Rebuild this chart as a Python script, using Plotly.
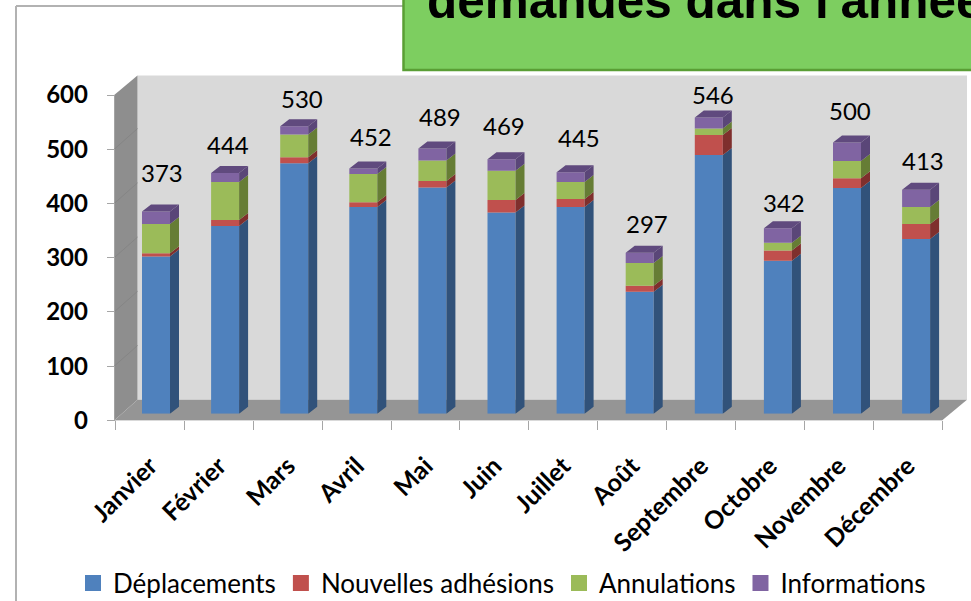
import plotly.graph_objects as go

# ---- data ----
months = ["Janvier", "Février", "Mars", "Avril", "Mai", "Juin", "Juillet", "Août",
          "Septembre", "Octobre", "Novembre", "Décembre"]
deplacements = [290, 346, 462, 381, 417, 371, 381, 225, 477, 282, 416, 322]
adhesions = [6, 11, 11, 9, 12, 23, 15, 11, 37, 19, 18, 28]
annulations = [54, 70, 42, 52, 38, 54, 31, 42, 12, 14, 32, 31]
informations = [23, 17, 15, 10, 22, 21, 18, 19, 20, 27, 34, 32]
totals = [373, 444, 530, 452, 489, 469, 445, 297, 546, 342, 500, 413]
y_ticks = [0, 100, 200, 300, 400, 500, 600]
title_text = "demandes dans l'année"

series = [
    ("Déplacements", deplacements, "#4f81bd", "#31527a", "#3b6390"),
    ("Nouvelles adhésions", adhesions, "#c0504d", "#7f2f2d", "#93403d"),
    ("Annulations", annulations, "#9bbb59", "#667d35", "#7a9140"),
    ("Informations", informations, "#8064a2", "#5a4678", "#604a7e"),
]

# ---- layout geometry (pixels) ----
W, H = 971, 601
FONT = "Lato"
px_x = lambda v: v / W
px_y = lambda v: 1 - v / H

FRONT_L, FRONT_R = 115.7, 942.0
FRONT_0, FRONT_600 = 420.4, 95.0
WALL_L, WALL_R = 137.5, 967.0
WALL_0, WALL_600 = 399.8, 75.4
BAR_L, BAR_R = 121.45, 950.65
BAR_DY = 6.7
DEPTH_X, DEPTH_Y = 9.0, 7.0

unit_x = (BAR_R - BAR_L) / 12
unit_y = (FRONT_0 - FRONT_600) / 600
BAR_W = 28.0 / unit_x
dx = DEPTH_X / unit_x
dy = DEPTH_Y / unit_y

# manual label offsets from each stack's front top, as placed in the reference
label_lift = [38.5, 28, 28, 32, 32, 33.5, 34.5, 28.7, 22.8, 26, 32, 29]
label_side = [6, 3, 8, 8, 8, 2, 8.5, 7.5, 4.5, 6, 3, 7]

fig = go.Figure()

# invisible carrier so the front category axis has its ticks and labels
fig.add_trace(go.Scatter(x=months, y=[0] * 12, mode="none", xaxis="x2", yaxis="y2",
                         showlegend=False, hoverinfo="skip"))

idx = list(range(12))
bottom = [0] * 12
for name, values, front, side, top in series:
    fig.add_trace(go.Bar(x=idx, y=values, base=bottom, width=BAR_W, marker=dict(color=front, line_width=0),
                         xaxis="x3", yaxis="y3", showlegend=False, name=name))
    xs, ys = [], []
    for i in idx:
        r = i + BAR_W / 2
        y0, y1 = bottom[i], bottom[i] + values[i]
        xs += [r, r + dx, r + dx, r, r, None]
        ys += [y0, y0 + dy, y1 + dy, y1, y0, None]
    fig.add_trace(go.Scatter(x=xs, y=ys, mode="lines", fill="toself", fillcolor=side,
                             line=dict(width=0, color=side), xaxis="x3", yaxis="y3",
                             showlegend=False, hoverinfo="skip"))
    bottom = [b + v for b, v in zip(bottom, values)]

# top faces of the stacks (last series colour)
xs, ys = [], []
for i in idx:
    l, r = i - BAR_W / 2, i + BAR_W / 2
    t = bottom[i]
    xs += [l, l + dx, r + dx, r, l, None]
    ys += [t, t + dy, t + dy, t, t, None]
fig.add_trace(go.Scatter(x=xs, y=ys, mode="lines", fill="toself", fillcolor=series[-1][4],
                         line=dict(width=0, color=series[-1][4]), xaxis="x3", yaxis="y3",
                         showlegend=False, hoverinfo="skip"))

# legend entries
for name, values, front, side, top in series:
    fig.add_trace(go.Scatter(x=[None], y=[None], mode="markers", name=name, xaxis="x3", yaxis="y3",
                             marker=dict(symbol="square", size=16, color=front)))

# total labels
annotations = []
for i, total in enumerate(totals):
    annotations.append(dict(x=i, y=total, xref="x3", yref="y3", text=str(total), showarrow=False,
                            xanchor="center", yanchor="middle", xshift=label_side[i], yshift=label_lift[i],
                            font=dict(family=FONT, size=24, color="#000000")))

# walls, floor, chart border and title box
def poly(points, color):
    path = "M " + " L ".join(f"{px_x(x):.5f},{px_y(y):.5f}" for x, y in points) + " Z"
    return dict(type="path", xref="paper", yref="paper", path=path, fillcolor=color,
                line_width=0, layer="below")

def seg(x0, y0, x1, y1, color, width):
    return dict(type="line", xref="paper", yref="paper", x0=px_x(x0), y0=px_y(y0), x1=px_x(x1), y1=px_y(y1),
                line=dict(color=color, width=width), layer="below")

shapes = [
    seg(16, 6, 403, 6, "#b2b2b2", 2),
    seg(16, 6, 16, 601, "#b2b2b2", 2),
    poly([(WALL_L, WALL_600), (WALL_R, WALL_600), (WALL_R, WALL_0), (WALL_L, WALL_0)], "#d9d9d9"),
    poly([(FRONT_L - 1.5, FRONT_600), (WALL_L, WALL_600), (WALL_L, WALL_0), (FRONT_L - 1.5, FRONT_0)], "#8e8e8e"),
    poly([(FRONT_L - 1.5, FRONT_0), (WALL_L, WALL_0), (WALL_R, WALL_0), (FRONT_R, FRONT_0)], "#959595"),
]
for t in y_ticks[1:-1]:
    yf = FRONT_0 - t * unit_y
    yw = WALL_0 - t * unit_y
    shapes.append(seg(FRONT_L - 1.5, yf, WALL_L, yw, "#858585", 1))
shapes.append(dict(type="rect", xref="paper", yref="paper", x0=px_x(403.5), x1=px_x(975), y0=px_y(70), y1=px_y(-5),
                   fillcolor="#7dce60", line=dict(color="#5a9e35", width=2.5), layer="below"))

fig.update_layout(
    template="none",
    width=W, height=H, margin=dict(l=0, r=0, t=0, b=0, pad=0, autoexpand=False), autosize=False,
    paper_bgcolor="white", plot_bgcolor="rgba(0,0,0,0)",
    barmode="overlay", shapes=shapes, annotations=annotations, hovermode=False,
    font=dict(family=FONT, color="#000000"),
    title=dict(text=f"<b>{title_text}</b>", x=427 / W, xanchor="left", xref="paper",
               y=px_y(8), yanchor="bottom", yref="paper", pad=dict(b=-10, l=0, r=0, t=0),
               font=dict(family="Liberation Sans", size=49.5, color="#000000")),
    # back wall with its gridlines
    xaxis=dict(domain=[px_x(WALL_L), px_x(WALL_R)], range=[0, 1], visible=False, automargin=False),
    yaxis=dict(domain=[px_y(WALL_0), px_y(WALL_600)], range=[0, 600], tickvals=y_ticks, showticklabels=False,
               ticks="", showgrid=True, gridcolor="#a3a3a3", gridwidth=1.6, zeroline=False, showline=False,
               automargin=False),
    # front axes
    xaxis2=dict(domain=[px_x(FRONT_L), px_x(FRONT_R)], anchor="y2", type="category", categoryorder="array",
                categoryarray=months, range=[-0.5, 11.5], tickson="boundaries", ticks="outside", ticklen=9,
                tickcolor="#a6a6a6", tickwidth=1.2, showgrid=False, zeroline=False, showline=True, linecolor="#d9d9d9",
                tickangle=-45, ticklabelstandoff=20, automargin=False,
                tickfont=dict(family=FONT, size=25, weight="bold", color="#000000")),
    yaxis2=dict(domain=[px_y(FRONT_0), px_y(FRONT_600)], anchor="x2", range=[0, 600], tickvals=y_ticks,
                ticks="outside", ticklen=8, tickcolor="#a6a6a6", tickwidth=1.2, showgrid=False, zeroline=False,
                showline=False, ticklabelstandoff=14, automargin=False,
                tickfont=dict(family=FONT, size=24, weight="bold", color="#000000")),
    # plane of the bars
    xaxis3=dict(domain=[px_x(BAR_L), px_x(BAR_R)], anchor="y3", range=[-0.5, 11.5],
                visible=False, automargin=False),
    yaxis3=dict(domain=[px_y(FRONT_0 - BAR_DY), px_y(FRONT_600 - BAR_DY)], anchor="x3", range=[0, 600],
                visible=False, automargin=False),
    legend=dict(orientation="h", x=73 / W, xanchor="left", y=px_y(583), yanchor="middle",
                font=dict(family=FONT, size=26, color="#000000"), bgcolor="rgba(0,0,0,0)", itemsizing="trace",
                tracegroupgap=0),
)

fig.write_html("out.html", config=dict(displayModeBar=False),
               post_script="document.body.style.margin='0';document.body.style.overflow='hidden';")
